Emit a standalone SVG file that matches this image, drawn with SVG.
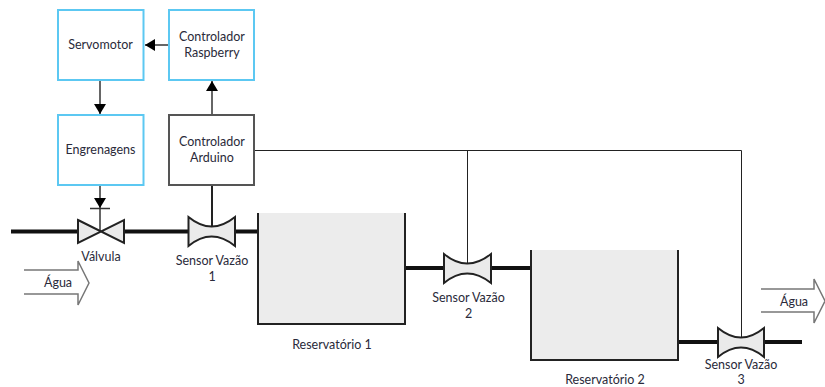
<svg xmlns="http://www.w3.org/2000/svg" width="825" height="387" viewBox="0 0 825 387">
<defs>
<style>
text{font-family:"Lato","Open Sans",sans-serif;font-size:12.5px;fill:#2a2a3a;text-anchor:middle}
.blue{fill:#fff;stroke:#5cc8f2;stroke-width:2}
.gray{fill:#fff;stroke:#555;stroke-width:2}
.pipe{fill:none;stroke:#111;stroke-width:4}
.wire{fill:none;stroke:#222;stroke-width:1}
.link{fill:none;stroke:#333;stroke-width:1.5}
.tank{fill:#ececec;stroke:none}
.wall{fill:none;stroke:#222;stroke-width:2}
.eq{fill:#eaeaea;stroke:#222;stroke-width:2;stroke-linejoin:miter}
.big{fill:#fff;stroke:#777;stroke-width:1.5}
</style>
<marker id="ah" markerUnits="userSpaceOnUse" markerWidth="12" markerHeight="12" refX="10" refY="6" orient="auto"><path d="M0,0L10,6L0,12Z" fill="#000"/></marker>
</defs>
<rect width="825" height="387" fill="#fff"/>
<g id="connectors">
<path class="link" d="M169,45H145" marker-end="url(#ah)"/>
<path class="link" d="M100,80V114" marker-end="url(#ah)"/>
<path class="link" d="M212,115V81" marker-end="url(#ah)"/>
<path class="link" d="M100,185V208" marker-end="url(#ah)"/>
<path class="link" d="M90,208.500H110"/>
<path class="link" d="M100,208V232"/>
<path class="wire" d="M212,185V226" style="stroke-width:2"/>
<path class="wire" d="M254,150.500H741.500V337"/>
<path class="wire" d="M467.500,150.500V264"/>
<path class="pipe" d="M11,231.500H78M124,231.500H188M235,231.500H258"/>
<path class="pipe" d="M405,268H444M491,268H531"/>
<path class="pipe" d="M678,342H718M763,342H802"/>
</g>
<g id="servomotor"><rect class="blue" x="58" y="10" width="85.500" height="70"/><text x="100.500" y="49">Servomotor</text></g>
<g id="raspberry"><rect class="blue" x="169" y="10" width="85" height="70"/><text x="212" y="41">Controlador</text><text x="212" y="57">Raspberry</text></g>
<g id="engrenagens"><rect class="blue" x="58" y="115" width="85.500" height="70"/><text x="100.500" y="154">Engrenagens</text></g>
<g id="arduino"><rect class="gray" x="169" y="115" width="85" height="70"/><text x="212" y="146">Controlador</text><text x="212" y="162">Arduino</text></g>
<g id="valvula"><path class="eq" d="M78,220L124,243V220L78,243Z"/><text x="101" y="261">Válvula</text></g>
<g id="sensor1"><path class="eq" d="M188.500,217Q211.500,236 235,217V246Q211.500,227 188.500,246Z"/><text x="212" y="265">Sensor Vazão</text><text x="212" y="281">1</text></g>
<g id="reservatorio1"><rect class="tank" x="258" y="213" width="147" height="111"/><path class="wall" d="M258,213V324H405V213"/><text x="332" y="349">Reservatório 1</text></g>
<g id="sensor2"><path class="eq" d="M444,254Q467,273 491,254V283Q467,264 444,283Z"/><text x="468.500" y="302">Sensor Vazão</text><text x="468.500" y="318">2</text></g>
<g id="reservatorio2"><rect class="tank" x="531" y="250" width="147" height="110"/><path class="wall" d="M531,250V360H678V250"/><text x="605" y="384">Reservatório 2</text></g>
<g id="sensor3"><path class="eq" d="M718,328Q741,347 764,328V357Q741,338 718,357Z"/><text x="741" y="368.500">Sensor Vazão</text><text x="741" y="384">3</text></g>
<g id="agua1"><path class="big" d="M24,270H78V261L89,283L78,305V294H24"/><text x="58" y="287">Água</text></g>
<g id="agua2"><path class="big" d="M761,289H814V279L825,301L814,323V312H761"/><text x="794" y="306">Água</text></g>
</svg>
